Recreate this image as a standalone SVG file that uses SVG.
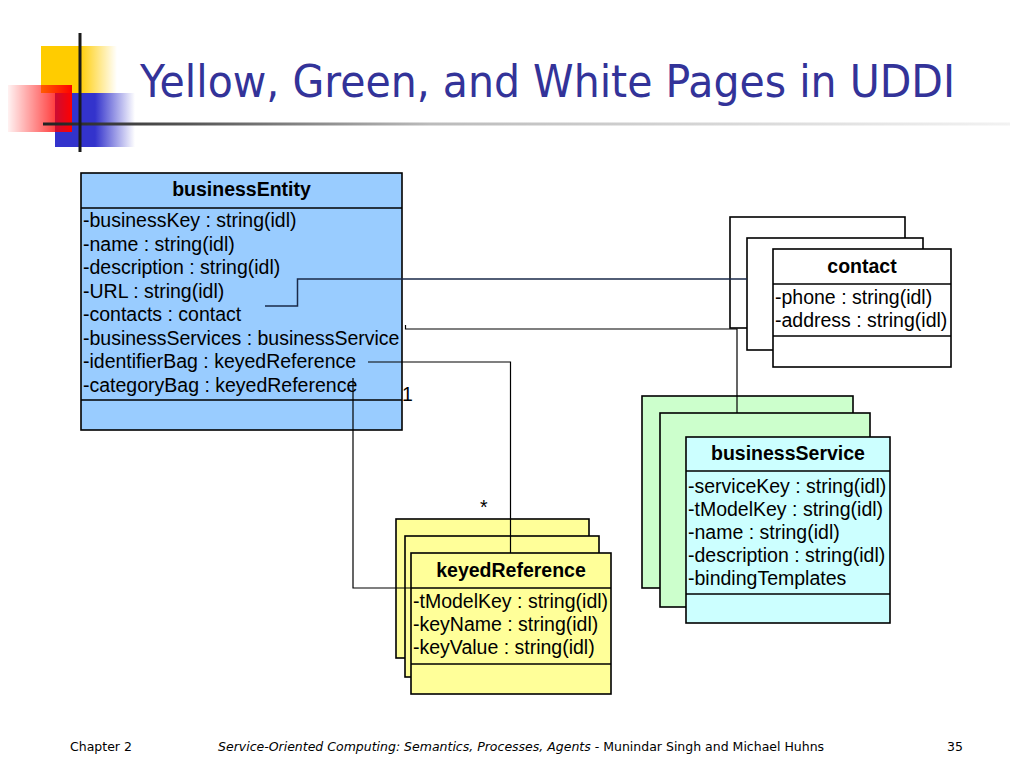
<svg xmlns="http://www.w3.org/2000/svg" width="1024" height="768" viewBox="0 0 1024 768">
<defs>
<linearGradient id="gY" x1="0" y1="0" x2="1" y2="0"><stop offset="0" stop-color="#FFCC00"/><stop offset="0.5" stop-color="#FFCC00"/><stop offset="1" stop-color="#FFCC00" stop-opacity="0"/></linearGradient>
<linearGradient id="gR" x1="0" y1="0" x2="1" y2="0"><stop offset="0" stop-color="#FF0000" stop-opacity="0.05"/><stop offset="1" stop-color="#FF0000"/></linearGradient>
<linearGradient id="gB" x1="0" y1="0" x2="1" y2="0"><stop offset="0" stop-color="#3333CC"/><stop offset="0.5" stop-color="#3333CC"/><stop offset="1" stop-color="#3333CC" stop-opacity="0"/></linearGradient>
<linearGradient id="gL" gradientUnits="userSpaceOnUse" x1="43" y1="0" x2="1010" y2="0"><stop offset="0" stop-color="#222222"/><stop offset="0.15" stop-color="#555555"/><stop offset="0.4" stop-color="#BBBBBB"/><stop offset="1" stop-color="#F2F2F2"/></linearGradient>
</defs>
<style>
.box{stroke:#000;stroke-width:1.6}
.sep{stroke:#000;stroke-width:1.6}
.t{font-family:"Liberation Sans",Arial,sans-serif;font-size:19.5px;fill:#000}
.h{font-family:"Liberation Sans",Arial,sans-serif;font-size:19.5px;font-weight:bold;fill:#000;text-anchor:middle}
.c{fill:none;stroke:#000;stroke-width:1.2}
.f{font-family:"DejaVu Sans",Tahoma,sans-serif;font-size:12.5px;fill:#000}
.ent{fill:#99CCFF}.wht{fill:#FFFFFF}.grn{fill:#CCFFCC}.cyn{fill:#CCFFFF}.yel{fill:#FFFF99}
</style>
<rect width="1024" height="768" fill="#FFFFFF"/>
<g id="logo">
<rect x="41" y="46" width="76" height="47" fill="url(#gY)"/>
<rect x="55" y="93" width="80" height="54" fill="url(#gB)"/>
<rect x="8" y="85" width="64" height="47" fill="url(#gR)"/>
<rect x="43" y="122.5" width="967" height="3" fill="url(#gL)"/>
<rect x="78.5" y="33" width="3" height="119" fill="#1a1a1a"/>
</g>
<g id="title"><text x="140" y="97" font-family="DejaVu Sans, Tahoma, sans-serif" font-size="45" fill="#333399" textLength="815" lengthAdjust="spacingAndGlyphs">Yellow, Green, and White Pages in UDDI</text></g>

<g id="businessEntity">
<rect class="box ent" x="81" y="173" width="321" height="257"/>
<line class="sep" x1="81" y1="208" x2="402" y2="208"/>
<line class="sep" x1="81" y1="400" x2="402" y2="400"/>
<text class="h" x="241.5" y="196">businessEntity</text>
<text class="t" x="83" y="227">-businessKey : string(idl)</text>
<text class="t" x="83" y="251">-name : string(idl)</text>
<text class="t" x="83" y="274">-description : string(idl)</text>
<text class="t" x="83" y="298">-URL : string(idl)</text>
<text class="t" x="83" y="321">-contacts : contact</text>
<text class="t" x="83" y="345">-businessServices : businessService</text>
<text class="t" x="83" y="368">-identifierBag : keyedReference</text>
<text class="t" x="83" y="392">-categoryBag : keyedReference</text>
</g>

<g id="contact">
<rect class="box wht" x="730" y="217" width="175" height="111"/>
<rect class="box wht" x="747" y="238" width="176" height="112"/>
<rect class="box wht" x="773" y="249" width="178" height="118"/>
<line class="sep" x1="773" y1="284" x2="951" y2="284"/>
<line class="sep" x1="773" y1="336" x2="951" y2="336"/>
<text class="h" x="862" y="273">contact</text>
<text class="t" x="775" y="304">-phone : string(idl)</text>
<text class="t" x="775" y="327">-address : string(idl)</text>
</g>

<g id="businessService">
<rect class="box grn" x="642" y="396" width="211" height="192"/>
<rect class="box grn" x="660" y="413" width="210" height="194"/>
<rect class="box cyn" x="686" y="437" width="204" height="186"/>
<line class="sep" x1="686" y1="471" x2="890" y2="471"/>
<line class="sep" x1="686" y1="594" x2="890" y2="594"/>
<text class="h" x="788" y="460">businessService</text>
<text class="t" x="688" y="493">-serviceKey : string(idl)</text>
<text class="t" x="688" y="516">-tModelKey : string(idl)</text>
<text class="t" x="688" y="539">-name : string(idl)</text>
<text class="t" x="688" y="562">-description : string(idl)</text>
<text class="t" x="688" y="585">-bindingTemplates</text>
</g>

<g id="keyedReference">
<rect class="box yel" x="396" y="519" width="193" height="139"/>
<rect class="box yel" x="405" y="536" width="194" height="141"/>
<rect class="box yel" x="411" y="553" width="200" height="141"/>
<line class="sep" x1="411" y1="588" x2="611" y2="588"/>
<line class="sep" x1="411" y1="664" x2="611" y2="664"/>
<text class="h" x="511" y="577">keyedReference</text>
<text class="t" x="413" y="608">-tModelKey : string(idl)</text>
<text class="t" x="413" y="631">-keyName : string(idl)</text>
<text class="t" x="413" y="654">-keyValue : string(idl)</text>
</g>

<g id="connectors">
<path class="c" d="M265 306 H297.5 V279 H747" style="stroke:#1a2a4a;stroke-width:1.5"/>
<path class="c" d="M405.5 325 V329 H737 V413"/>
<path class="c" d="M368 362 H510.5 V553"/>
<path class="c" d="M353 378 V588 H411"/>
<text class="t" x="402" y="401">1</text>
<text class="t" x="480" y="514">*</text>
</g>

<g id="footer">
<text class="f" x="70" y="751">Chapter 2</text>
<text class="f" x="218" y="751"><tspan font-style="italic">Service-Oriented Computing: Semantics, Processes, Agents</tspan> - Munindar Singh and Michael Huhns</text>
<text class="f" x="947" y="751">35</text>
</g>
</svg>
